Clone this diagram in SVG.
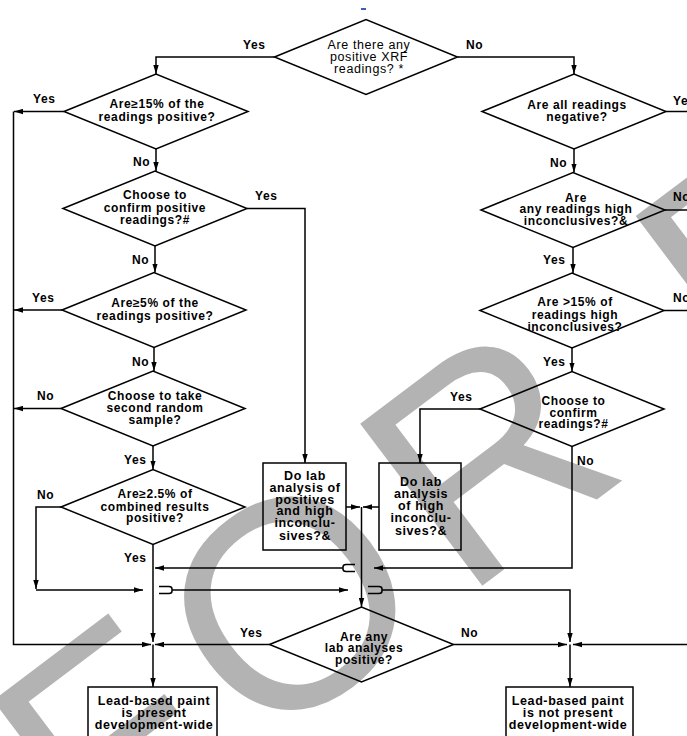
<svg xmlns="http://www.w3.org/2000/svg" width="687" height="736" viewBox="0 0 687 736">
<defs>
<style>
.sh{fill:none;stroke:#000;stroke-width:1.5;stroke-linejoin:miter}
.ln{fill:none;stroke:#000;stroke-width:1.5}
.ar{marker-end:url(#ah)}
.t{font-family:"Liberation Sans",Arial,sans-serif;font-size:12px;font-weight:bold;fill:#000;text-anchor:middle;letter-spacing:0.6px}
.tr{font-weight:normal;font-size:12.5px}
.lb{font-family:"Liberation Sans",Arial,sans-serif;font-size:12px;font-weight:bold;fill:#000;letter-spacing:0.6px}
.bx{font-size:12.5px}
.wm{font-family:"Liberation Sans",Arial,sans-serif;font-size:295px;fill:#b3b3b3;letter-spacing:25px}
</style>
<marker id="ah" viewBox="0 0 10 6" refX="10" refY="3" markerWidth="9" markerHeight="6" markerUnits="userSpaceOnUse" orient="auto">
<path d="M0,0 L10,3 L0,6 z" fill="#000"/>
</marker>
</defs>
<rect width="687" height="736" fill="#fff"/>
<g id="watermark">
<text class="wm" transform="translate(95.9,877) rotate(-37)">FOR P</text>
</g>
<rect x="361" y="8" width="5" height="2" fill="#3b62b0"/>

<g id="connectors">
<path class="ln ar" d="M274.5,57 H156 V74"/>
<path class="ln ar" d="M457.5,57 H574 V74"/>
<path class="ln ar" d="M156,149 V171"/>
<path class="ln ar" d="M155,246 V272.5"/>
<path class="ln ar" d="M154,347.5 V371"/>
<path class="ln ar" d="M153,446 V469.5"/>
<path class="ln ar" d="M64,111.5 H14"/>
<path class="ln ar" d="M13.5,111.5 V644.5 H151"/>
<path class="ln ar" d="M62,310 H14"/>
<path class="ln ar" d="M61,408.5 H14"/>
<path class="ln ar" d="M247,208.5 H305 V463"/>
<path class="ln ar" d="M61,507 H36 V589"/>
<path class="ln ar" d="M36,590 H143"/>
<path class="ln ar" d="M153,544.5 V642"/>
<path class="ln ar" d="M153,644.5 V687"/>
<path class="ln ar" d="M269.5,644.5 H155"/>
<path class="ln ar" d="M480,409 H420 V463"/>
<path class="ln ar" d="M572,446.5 V568 H374"/>
<path class="ln" d="M355,564.5 H346 Q343,564.5 343,567 V569 Q343,571.5 346,571.5 H355"/>
<path class="ln ar" d="M343,568 H155"/>
<path class="ln" d="M159,586.5 H169 Q172,586.5 172,589 V591 Q172,593.5 169,593.5 H159"/>
<path class="ln ar" d="M172,590 H348"/>
<path class="ln" d="M368,586.5 H379 Q382,586.5 382,589 V591 Q382,593.5 379,593.5 H368"/>
<path class="ln ar" d="M382,590 H570 V642"/>
<path class="ln ar" d="M453.5,644.5 H567"/>
<path class="ln ar" d="M687,644.5 H573"/>
<path class="ln ar" d="M570,644.5 V687"/>
<path class="ln" d="M666,111.5 H687"/>
<path class="ln" d="M665,210 H687"/>
<path class="ln" d="M664,310.5 H687"/>
<path class="ln ar" d="M574,149 V172.5"/>
<path class="ln ar" d="M573,247.5 V273"/>
<path class="ln ar" d="M572,348 V371.5"/>
<path class="ln ar" d="M346,507 H360"/>
<path class="ln ar" d="M379,507 H363"/>
<path class="ln ar" d="M361.5,507 V607"/>
</g>

<g id="labels">
<text class="lb" x="243" y="49">Yes</text>
<text class="lb" x="466" y="49">No</text>
<text class="lb" x="33" y="103">Yes</text>
<text class="lb" x="133" y="166">No</text>
<text class="lb" x="255" y="200">Yes</text>
<text class="lb" x="132" y="264">No</text>
<text class="lb" x="32" y="302">Yes</text>
<text class="lb" x="132" y="366">No</text>
<text class="lb" x="37" y="400">No</text>
<text class="lb" x="124" y="464">Yes</text>
<text class="lb" x="37" y="499">No</text>
<text class="lb" x="124" y="562">Yes</text>
<text class="lb" x="550" y="167">No</text>
<text class="lb" x="673" y="105">Yes</text>
<text class="lb" x="673" y="201">No</text>
<text class="lb" x="543" y="264">Yes</text>
<text class="lb" x="673" y="302">No</text>
<text class="lb" x="543" y="366">Yes</text>
<text class="lb" x="450" y="401">Yes</text>
<text class="lb" x="577" y="465">No</text>
<text class="lb" x="240" y="637">Yes</text>
<text class="lb" x="461" y="637">No</text>
</g>

<g id="n_start">
<polygon class="sh" points="274.5,57 366,19.5 457.5,57 366,94.5"/>
<text class="t tr" x="369" y="49">Are there any</text>
<text class="t tr" x="369" y="61">positive XRF</text>
<text class="t tr" x="369" y="72.5">readings? *</text>
</g>
<g id="n_15pct">
<polygon class="sh" points="64,111.5 156,74 248,111.5 156,149"/>
<text class="t" x="157" y="108">Are≥15% of the</text>
<text class="t" x="157" y="120.5">readings positive?</text>
</g>
<g id="n_confirm_pos">
<polygon class="sh" points="63,208.5 155,171 247,208.5 155,246"/>
<text class="t" x="155" y="199.3">Choose to</text>
<text class="t" x="155" y="211.5">confirm positive</text>
<text class="t" x="155" y="223.7">readings?#</text>
</g>
<g id="n_5pct">
<polygon class="sh" points="62,310 154,272.5 246,310 154,347.5"/>
<text class="t" x="155" y="307.3">Are≥5% of the</text>
<text class="t" x="155" y="320">readings positive?</text>
</g>
<g id="n_second">
<polygon class="sh" points="61,408.5 153,371 245,408.5 153,446"/>
<text class="t" x="155" y="400.2">Choose to take</text>
<text class="t" x="155" y="412">second random</text>
<text class="t" x="155" y="423.7">sample?</text>
</g>
<g id="n_25pct">
<polygon class="sh" points="61,507 153,469.5 245,507 153,544.5"/>
<text class="t" x="155" y="498.3">Are≥2.5% of</text>
<text class="t" x="155" y="510.5">combined results</text>
<text class="t" x="155" y="522.3">positive?</text>
</g>
<g id="n_allneg">
<polygon class="sh" points="482,111.5 574,74 666,111.5 574,149"/>
<text class="t" x="577" y="108.7">Are all readings</text>
<text class="t" x="577" y="120.9">negative?</text>
</g>
<g id="n_anyhigh">
<polygon class="sh" points="481,210 573,172.5 665,210 573,247.5"/>
<text class="t" x="576" y="201.5">Are</text>
<text class="t" x="576" y="213.2">any readings high</text>
<text class="t" x="576" y="225">inconclusives?&amp;</text>
</g>
<g id="n_15high">
<polygon class="sh" points="480,310.5 572,273 664,310.5 572,348"/>
<text class="t" x="575" y="306.2">Are &gt;15% of</text>
<text class="t" x="575" y="318.9">readings high</text>
<text class="t" x="575" y="330.6">inconclusives?</text>
</g>
<g id="n_confirm">
<polygon class="sh" points="480,409 572,371.5 664,409 572,446.5"/>
<text class="t" x="573.5" y="404.7">Choose to</text>
<text class="t" x="573.5" y="417.4">confirm</text>
<text class="t" x="573.5" y="428.2">readings?#</text>
</g>
<g id="n_lab1">
<rect class="sh" x="263" y="463" width="83" height="87"/>
<text class="t bx" x="305" y="479.5">Do lab</text>
<text class="t bx" x="305" y="491.8">analysis of</text>
<text class="t bx" x="305" y="503.5">positives</text>
<text class="t bx" x="305" y="515.3">and high</text>
<text class="t bx" x="305" y="527">inconclu-</text>
<text class="t bx" x="305" y="539.7">sives?&amp;</text>
</g>
<g id="n_lab2">
<rect class="sh" x="379" y="463" width="82" height="87"/>
<text class="t bx" x="421" y="485.7">Do lab</text>
<text class="t bx" x="421" y="498.3">analysis</text>
<text class="t bx" x="421" y="510.1">of high</text>
<text class="t bx" x="421" y="522.3">inconclu-</text>
<text class="t bx" x="421" y="535">sives?&amp;</text>
</g>
<g id="n_anylab">
<polygon class="sh" points="269.5,644.5 361.5,607 453.5,644.5 361.5,682"/>
<text class="t" x="364" y="640.5">Are any</text>
<text class="t" x="364" y="652.1">lab analyses</text>
<text class="t" x="364" y="663.9">positive?</text>
</g>
<g id="n_present">
<rect class="sh" x="88" y="687" width="129" height="60"/>
<text class="t bx" x="154" y="704.9">Lead-based paint</text>
<text class="t bx" x="154" y="717">is present</text>
<text class="t bx" x="154" y="728.8">development-wide</text>
</g>
<g id="n_notpresent">
<rect class="sh" x="506" y="687" width="127" height="60"/>
<text class="t bx" x="568" y="704.9">Lead-based paint</text>
<text class="t bx" x="568" y="717">is not present</text>
<text class="t bx" x="568" y="728.8">development-wide</text>
</g>
</svg>
